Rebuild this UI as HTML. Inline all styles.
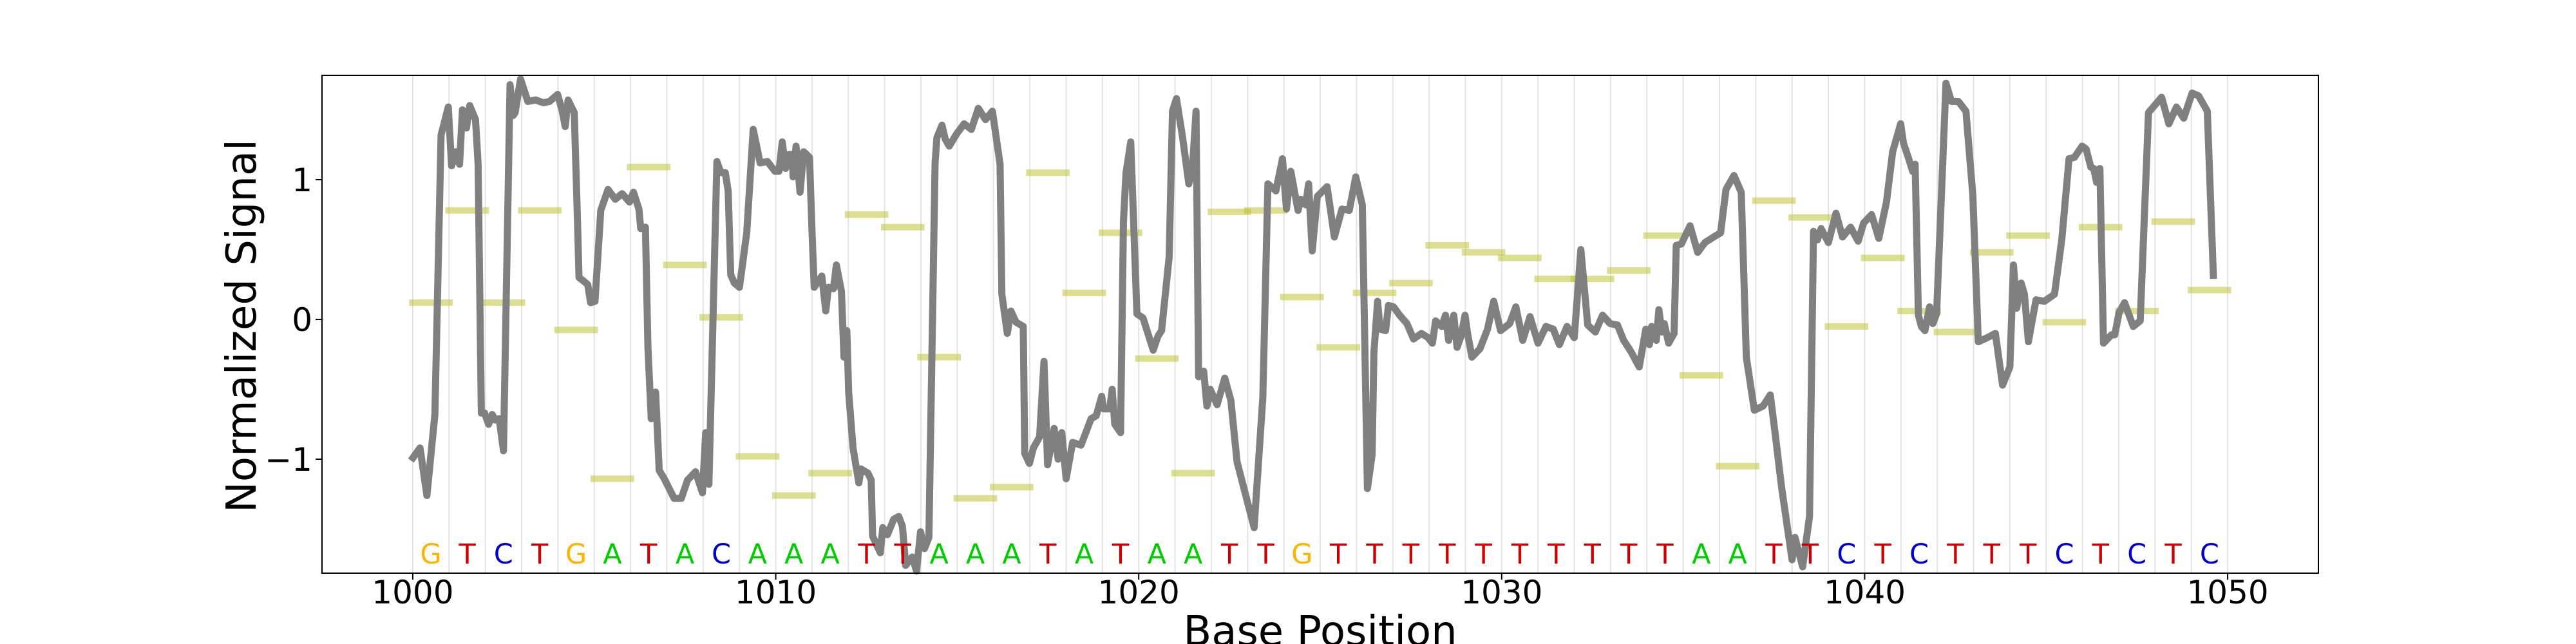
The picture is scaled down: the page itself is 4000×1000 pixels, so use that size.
<!DOCTYPE html>
<html><head><meta charset="utf-8"><style>
html,body{margin:0;padding:0;background:#fff;}
svg{display:block;font-family:"DejaVu Sans","Liberation Sans",sans-serif;}
</style></head><body>
<svg id="chart" width="4000" height="1000" viewBox="0 0 4000 1000" xmlns="http://www.w3.org/2000/svg">
<rect x="0" y="0" width="4000" height="1000" fill="#fff"/>
<g id="grid"></g>
<g id="bars"></g>
<g id="line"></g>
<g id="bases"></g>
<rect x="500" y="117" width="3100" height="773" fill="none" stroke="#000" stroke-width="2"/>
<g id="xticks"></g>
<g id="yticks"></g>
<text x="0" y="0" transform="translate(397,506) rotate(-90)" text-anchor="middle" font-size="64">Normalized Signal</text>
<text x="2050" y="1002" text-anchor="middle" font-size="64">Base Position</text>
</svg>
<script>
const bases = "GTCTGATACAAATTAAATATAATTGTTTTTTTTTTAATTCTCTTTCTCTC".split("");
const startPos = 1000;
const levels = [0.12,0.78,0.12,0.78,-0.075,-1.14,1.09,0.39,0.015,-0.98,
-1.26,-1.10,0.75,0.66,-0.27,-1.28,-1.20,1.05,0.19,0.62,
-0.28,-1.10,0.77,0.78,0.16,-0.20,0.19,0.26,0.53,0.48,
0.44,0.29,0.29,0.35,0.60,-0.40,-1.05,0.85,0.73,-0.05,
0.44,0.06,-0.09,0.48,0.60,-0.02,0.66,0.06,0.70,0.21];
const sigX = [999.95,1000.2,1000.39,1000.61,1000.78,1000.98,1001.07,1001.19,1001.29,1001.37,1001.48,1001.57,1001.73,1001.8,1001.89,1001.98,1002.09,1002.19,1002.27,1002.38,1002.5,1002.68,1002.77,1002.82,1002.97,1003.17,1003.39,1003.6,1003.77,1003.99,1004.11,1004.2,1004.28,1004.45,1004.53,1004.58,1004.68,1004.82,1004.9,1005.02,1005.18,1005.38,1005.58,1005.77,1005.97,1006.08,1006.23,1006.28,1006.41,1006.48,1006.57,1006.69,1006.79,1006.93,1007.2,1007.4,1007.57,1007.79,1007.98,1008.07,1008.16,1008.38,1008.49,1008.61,1008.69,1008.76,1008.86,1009.0,1009.2,1009.38,1009.57,1009.77,1009.98,
1010.09,1010.18,1010.27,1010.36,1010.45,1010.48,1010.56,1010.67,1010.77,1010.93,1011.0,1011.06,1011.27,1011.38,1011.45,1011.59,1011.67,1011.81,1011.88,1011.96,1012.01,1012.13,1012.29,1012.35,1012.54,1012.63,1012.67,1012.88,1012.95,1013.08,1013.25,1013.39,1013.49,1013.58,1013.76,1013.88,1013.99,1014.1,1014.22,1014.39,1014.44,1014.58,1014.67,1014.78,1014.99,1015.19,1015.39,1015.58,1015.78,1015.97,1016.18,1016.23,1016.38,1016.48,1016.62,1016.82,1016.86,1016.99,1017.1,1017.27,1017.39,1017.49,1017.67,1017.78,1017.88,1018.0,1018.18,1018.41,1018.69,1018.83,1018.98,1019.03,1019.2,1019.27,1019.34,1019.5,1019.58,1019.65,1019.78,1019.95,1020.12,1020.4,1020.53,
1020.63,1020.84,1020.93,1021.04,1021.21,1021.38,1021.48,1021.58,1021.65,1021.79,1021.88,1021.97,1022.16,1022.37,1022.54,1022.71,1022.91,1023.18,1023.42,1023.56,1023.78,1023.96,1024.07,1024.19,1024.39,1024.47,1024.6,1024.68,1024.78,1024.92,1025.19,1025.39,1025.6,1025.8,1025.98,1026.16,1026.3,1026.43,1026.48,1026.58,1026.65,1026.8,1026.88,1027.02,1027.19,1027.39,1027.57,1027.79,1027.97,1028.09,1028.18,1028.35,1028.45,1028.54,1028.68,1028.77,1028.88,1028.99,1029.06,1029.18,1029.4,1029.61,1029.78,1029.97,1030.22,1030.39,1030.58,
1030.78,1031.0,1031.22,1031.42,1031.59,1031.8,1032.0,1032.18,1032.37,1032.58,1032.78,1032.99,1033.19,1033.36,1033.56,1033.79,1033.97,1034.07,1034.13,1034.26,1034.33,1034.41,1034.48,1034.6,1034.75,1034.81,1034.95,1035.19,1035.4,1035.6,1035.84,1036.03,1036.18,1036.4,1036.6,1036.74,1036.96,1037.2,1037.4,1037.54,1037.71,1038.0,1038.08,1038.29,1038.48,1038.59,1038.7,1038.8,1039.0,1039.21,1039.39,1039.61,1039.82,1039.97,1040.19,1040.39,1040.6,1040.77,1040.99,
1041.07,1041.2,1041.32,1041.39,1041.48,1041.56,1041.66,1041.79,1041.88,1041.98,1042.24,1042.39,1042.58,1042.79,1042.98,1043.13,1043.38,1043.6,1043.8,1044.0,1044.1,1044.19,1044.31,1044.4,1044.51,1044.6,1044.72,1044.95,1045.23,1045.43,1045.63,1045.78,1045.99,1046.1,1046.23,1046.31,1046.39,1046.48,1046.58,1046.8,1046.89,1047.01,1047.16,1047.4,1047.59,1047.82,1048.18,1048.38,1048.59,1048.79,1049.02,1049.2,1049.44,1049.61,1049.81];
const sigY = [-1.01,-0.92,-1.26,-0.68,1.32,1.52,1.10,1.20,1.11,1.50,1.37,1.53,1.43,1.11,-0.67,-0.67,-0.75,-0.68,-0.72,-0.71,-0.94,1.68,1.46,1.48,1.72,1.56,1.57,1.55,1.56,1.61,1.5,1.38,1.57,1.48,0.79,0.30,0.28,0.25,0.12,0.13,0.78,0.93,0.86,0.90,0.84,0.91,0.79,0.65,0.66,-0.20,-0.71,-0.52,-1.08,-1.14,-1.28,-1.28,-1.15,-1.09,-1.24,-0.81,-1.18,1.13,1.05,1.05,0.92,0.32,0.26,0.23,0.62,1.36,1.12,1.13,1.06,
1.06,1.27,1.08,1.18,1.18,1.02,1.24,0.91,1.20,1.16,0.63,0.23,0.31,0.06,0.23,0.22,0.39,0.20,-0.27,-0.08,-0.52,-0.92,-1.17,-1.07,-1.10,-1.15,-1.55,-1.67,-1.49,-1.54,-1.43,-1.41,-1.48,-1.76,-1.70,-1.80,-1.52,-1.64,-1.56,1.12,1.30,1.39,1.29,1.24,1.33,1.40,1.36,1.51,1.43,1.49,1.11,0.18,-0.10,0.06,-0.02,-0.05,-0.96,-1.03,-0.92,-0.84,-0.30,-1.04,-0.78,-1.0,-0.81,-1.14,-0.88,-0.90,-0.71,-0.69,-0.55,-0.64,-0.64,-0.50,-0.75,-0.81,0.70,1.05,1.27,0.04,0.01,-0.22,-0.12,
-0.08,0.45,1.49,1.58,1.30,0.97,1.08,1.49,-0.41,-0.37,-0.62,-0.50,-0.61,-0.42,-0.58,-1.02,-1.22,-1.49,-0.56,0.97,0.92,1.15,0.79,1.06,0.78,0.86,0.82,0.97,0.49,0.88,0.95,0.59,0.79,0.78,1.02,0.82,-1.21,-0.97,-0.24,0.13,-0.07,-0.08,0.10,0.09,0.03,-0.03,-0.14,-0.10,-0.13,-0.17,-0.01,-0.05,0.03,-0.15,0.03,-0.20,-0.12,0.03,-0.10,-0.27,-0.21,-0.07,0.13,-0.08,-0.03,0.09,-0.15,
0.02,-0.17,-0.05,-0.07,-0.18,-0.05,-0.13,0.50,-0.04,-0.09,0.03,-0.03,-0.04,-0.15,-0.23,-0.34,-0.07,-0.18,-0.05,-0.15,0.07,-0.09,-0.03,-0.17,-0.10,0.53,0.54,0.67,0.48,0.55,0.59,0.62,0.93,1.03,0.91,-0.27,-0.65,-0.62,-0.54,-0.83,-1.2,-1.72,-1.56,-1.77,-1.41,0.63,0.57,0.65,0.55,0.76,0.59,0.66,0.56,0.69,0.75,0.58,0.84,1.20,1.40,
1.26,1.16,1.06,1.11,0.03,-0.05,-0.08,0.09,-0.03,0.04,1.69,1.56,1.56,1.49,0.89,-0.16,-0.13,-0.10,-0.47,-0.34,0.39,0.08,0.26,0.18,-0.16,-0.03,0.14,0.13,0.18,0.57,1.15,1.16,1.24,1.22,1.09,1.08,0.98,1.08,-0.17,-0.11,-0.11,0.05,0.12,-0.05,-0.01,1.48,1.59,1.40,1.52,1.44,1.62,1.60,1.49,0.29];
const xTicks = [1000,1010,1020,1030,1040,1050];
const yTicks = [-1,0,1];
const baseColors = {G:"#ffb300",T:"#cc0000",C:"#0000cc",A:"#00cc00"};

const NS = "http://www.w3.org/2000/svg";
const X0 = 500, X1 = 3600, XMIN = 997.5, XMAX = 1052.5;
const Y0 = 496, YS = 217;
function sx(v){ return X0 + (v - XMIN) / (XMAX - XMIN) * (X1 - X0); }
function sy(v){ return Y0 - v * YS; }
function mk(tag, attrs, parent){
  const e = document.createElementNS(NS, tag);
  for (const k in attrs) e.setAttribute(k, attrs[k]);
  parent.appendChild(e);
  return e;
}
const gGrid = document.getElementById("grid");
for (let i = 0; i <= bases.length; i++) {
  const l = mk("line", {x1: sx(startPos+i), x2: sx(startPos+i), y1: 117, y2: 890, stroke: "#e3e3e3", "stroke-width": 2}, gGrid);
  
  
}
const gBars = document.getElementById("bars");
levels.forEach((v, i) => {
  const r = mk("rect", {x: sx(startPos+i-0.1), width: sx(startPos+i+1.1)-sx(startPos+i-0.1), y: sy(v)-5, height: 10, fill: "rgb(188,189,34)", "fill-opacity": 0.5}, gBars);
  
  
});
const gLine = document.getElementById("line");
const pts = sigX.map((x, i) => sx(x).toFixed(1) + "," + sy(sigY[i]).toFixed(1)).join(" ");
const pl = mk("polyline", {points: pts, fill: "none", stroke: "#808080", "stroke-width": 11, "stroke-linejoin": "round", "stroke-linecap": "butt"}, gLine);


const gBases = document.getElementById("bases");
bases.forEach((b, i) => {
  const t = mk("text", {x: sx(startPos+i+0.5), y: 875, "text-anchor": "middle", "font-size": 43, fill: baseColors[b]}, gBases);
  t.textContent = b;
  
  
});
const gX = document.getElementById("xticks");
xTicks.forEach(v => {
  const l = mk("line", {x1: sx(v), x2: sx(v), y1: 890, y2: 900, stroke: "#000", "stroke-width": 2}, gX);
  
  
  const t = mk("text", {x: sx(v), y: 937, "text-anchor": "middle", "font-size": 50}, gX);
  t.textContent = v;
  
  
});
const gY = document.getElementById("yticks");
yTicks.forEach(v => {
  const l = mk("line", {x1: 490, x2: 500, y1: sy(v), y2: sy(v), stroke: "#000", "stroke-width": 2}, gY);
  
  
  const t = mk("text", {x: 485, y: sy(v)+18, "text-anchor": "end", "font-size": 50}, gY);
  t.textContent = v < 0 ? "\u2212" + Math.abs(v) : String(v);
  
  
});
</script>
</body></html>
